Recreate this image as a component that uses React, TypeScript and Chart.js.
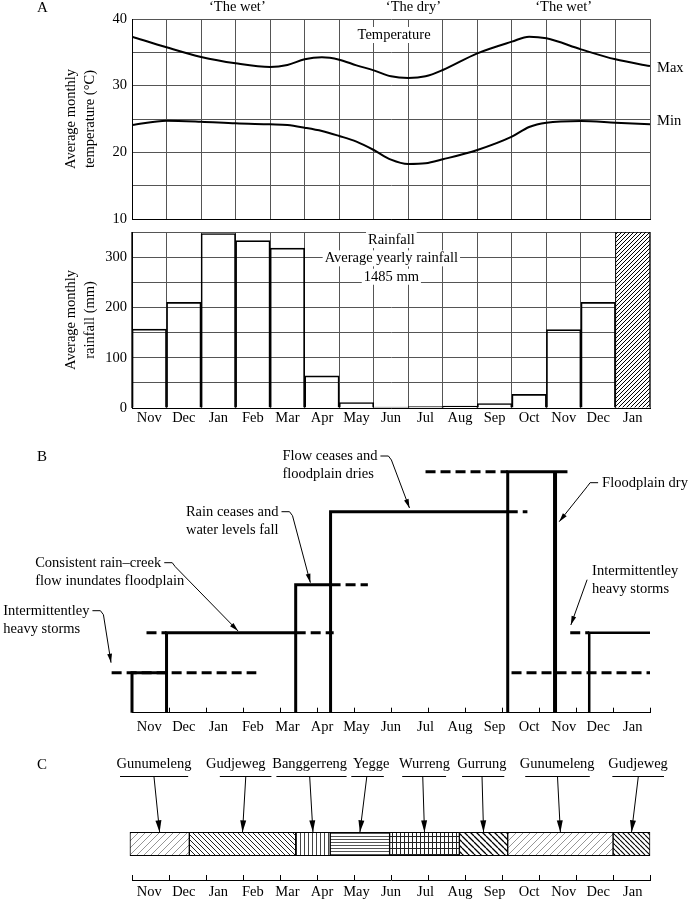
import React, { useEffect, useRef } from 'react';
import { Chart, registerables } from 'chart.js';

Chart.register(...registerables);

const SERIF = '"Liberation Serif", "Times New Roman", Times, serif';
const FS = 14.5;
const GRID = '#555';
Chart.defaults.font.family = SERIF;
Chart.defaults.font.size = FS;
Chart.defaults.color = '#000';

// ---------------- DATA ----------------
const months = ['Nov', 'Dec', 'Jan', 'Feb', 'Mar', 'Apr', 'May', 'Jun', 'Jul', 'Aug', 'Sep', 'Oct', 'Nov', 'Dec', 'Jan'];

// Panel A – temperature (x in months from start of Nov)
const tempMonthPos = [0, 1, 2, 3, 4, 4.5, 5, 5.5, 6, 6.5, 7, 7.5, 8, 8.5, 9, 10, 11, 11.5, 12, 13, 14, 15];
const tempMax = [37.35, 35.75, 34.3, 33.35, 32.8, 33.1, 33.95, 34.25, 33.9, 33.05, 32.3, 31.4, 31.15, 31.4, 32.35, 34.85, 36.6, 37.35, 37.1, 35.45, 33.95, 32.95];
const tempMin = [24.1, 24.75, 24.6, 24.35, 24.2, 24.1, 23.7, 23.2, 22.45, 21.6, 20.35, 18.9, 18.25, 18.35, 18.95, 20.35, 22.35, 23.8, 24.45, 24.7, 24.45, 24.2];
const tempTickLabels = [10, 20, 30, 40];
const periodNames = ['\u2018The wet\u2019', '\u2018The dry\u2019', '\u2018The wet\u2019'];
const periodPos = [3.05, 8.15, 12.5];

// Panel A – rainfall (mm)
const rainfall = [157, 210, 347, 333, 318, 64, 11, 2, 3, 4, 9, 27, 156, 210, 350];
const rainTickLabels = [0, 100, 200, 300];
const rainNotes = ['Rainfall', 'Average yearly rainfall', '1485 mm'];

// Panel B – flow regime steps (x: months, y: relative water level)
const stepSolidX = [[0, 0, 1], [1, 1, 4.74], [4.74, 4.74, 5.75], [5.75, 5.75, 10.88], [10.88, 10.88, 12.61], [12.25, 12.25], [13.24, 13.24, 15]];
const stepSolidY = [[0, 40, 40], [0, 80, 80], [0, 128, 128], [0, 201, 201], [0, 241, 241], [0, 241], [0, 80, 80]];
const stepDashX = [[-0.59, 3.6], [0.42, 1], [4.74, 5.84], [5.75, 6.83], [10.88, 11.45], [8.5, 10.88], [10.99, 15], [12.69, 13.24]];
const stepDashY = [[40, 40], [80, 80], [80, 80], [128, 128], [201, 201], [241, 241], [40, 40], [80, 80]];

// Panel C – seasons
const seasonNames = ['Gunumeleng', 'Gudjeweg', 'Banggerreng', 'Yegge', 'Wurreng', 'Gurrung', 'Gunumeleng', 'Gudjeweg'];
const seasonStart = [-0.06, 1.66, 4.74, 5.74, 7.46, 9.48, 10.88, 13.93];
const seasonEnd = [1.66, 4.74, 5.74, 7.46, 9.48, 10.88, 13.93, 15];

// ---------------- LAYOUT / STYLE ----------------
const AXIS_TICK_INTERVALS = 14;
const solidWidths = [3, 3, 3, 3, 3, 4, 2.5];
const flowNotes = [
  { lines: ['Flow ceases and', 'floodplain dries'], x: 4.355, y: 256.7, tip: [8.035, 204.7], side: 'right' },
  { lines: ['Rain ceases and', 'water levels fall'], x: 1.561, y: 201, tip: [5.165, 130], side: 'right' },
  { lines: ['Consistent rain\u2013creek', 'flow inundates floodplain'], x: -2.803, y: 150, tip: [3.072, 81.7], side: 'right' },
  { lines: ['Intermittentley', 'heavy storms'], x: -3.728, y: 102, tip: [-0.607, 50], side: 'right' },
  { lines: ['Floodplain dry'], x: 13.613, y: 230, tip: [12.37, 191], side: 'left' },
  { lines: ['Intermittentley', 'heavy storms'], x: 13.324, y: 142, tip: [12.708, 87.7], side: 'slant' },
];
const seasonTextPos = [0.636, 3.006, 5.145, 6.928, 8.468, 10.13, 12.312, 14.653];
const seasonLineStart = [-0.347, 2.543, 4.182, 6.35, 7.824, 9.558, 11.387, 13.91];
const seasonLineEnd = [1.627, 4.037, 6.214, 7.292, 9.095, 10.78, 13.257, 15.405];
const seasonArrowTop = [0.636, 3.295, 5.145, 6.8, 8.419, 10.136, 12.321, 14.662];
const seasonPatterns = [
  { kind: 'fwd', w: 7, h: 7, color: '#8a8a8a', lw: 0.9 },
  { kind: 'back', w: 5, h: 5, color: '#222', lw: 1 },
  { kind: 'vert', w: 4, h: 4, color: '#444', lw: 1 },
  { kind: 'horiz', w: 3, h: 3, color: '#555', lw: 1 },
  { kind: 'grid', w: 4, h: 6, color: '#222', lw: 1 },
  { kind: 'back', w: 6, h: 6, color: '#000', lw: 1.3 },
  { kind: 'fwd', w: 7, h: 7, color: '#8a8a8a', lw: 0.9 },
  { kind: 'back', w: 5, h: 5, color: '#000', lw: 1.1 },
];

// ---------------- HELPERS ----------------
function makePattern(ctx: CanvasRenderingContext2D, p: any) {
  const c = document.createElement('canvas');
  c.width = p.w;
  c.height = p.h;
  const g = c.getContext('2d')!;
  g.fillStyle = '#fff';
  g.fillRect(0, 0, p.w, p.h);
  g.strokeStyle = p.color;
  g.lineWidth = p.lw;
  g.beginPath();
  const s = p.w;
  if (p.kind === 'fwd') {
    for (let k = -1; k <= 1; k++) { g.moveTo(k * s, s); g.lineTo(k * s + s, 0); }
  } else if (p.kind === 'back') {
    for (let k = -1; k <= 1; k++) { g.moveTo(k * s, 0); g.lineTo(k * s + s, s); }
  } else if (p.kind === 'vert') {
    g.moveTo(0.5, 0); g.lineTo(0.5, p.h);
  } else if (p.kind === 'horiz') {
    g.moveTo(0, 0.5); g.lineTo(p.w, 0.5);
  } else if (p.kind === 'grid') {
    g.moveTo(0.5, 0); g.lineTo(0.5, p.h);
    g.moveTo(0, 0.5); g.lineTo(p.w, 0.5);
  }
  g.stroke();
  return ctx.createPattern(c, 'repeat');
}

function font(ctx: CanvasRenderingContext2D, size = FS) {
  ctx.font = `${size}px ${SERIF}`;
}

function boxedText(ctx: CanvasRenderingContext2D, text: string, cx: number, cy: number) {
  const w = ctx.measureText(text).width;
  ctx.fillStyle = '#fff';
  ctx.fillRect(cx - w / 2 - 2, cy - 8, w + 4, 16);
  ctx.fillStyle = '#000';
  ctx.fillText(text, cx, cy);
}

function arrowPath(ctx: CanvasRenderingContext2D, pts: number[][], head = 10, half = 2.6) {
  ctx.beginPath();
  ctx.moveTo(pts[0][0], pts[0][1]);
  for (let i = 1; i < pts.length; i++) ctx.lineTo(pts[i][0], pts[i][1]);
  ctx.stroke();
  const [ax, ay] = pts[pts.length - 2];
  const [bx, by] = pts[pts.length - 1];
  const a = Math.atan2(by - ay, bx - ax);
  const c = Math.cos(a), s = Math.sin(a);
  ctx.beginPath();
  ctx.moveTo(bx, by);
  ctx.lineTo(bx - head * c + half * s, by - head * s - half * c);
  ctx.lineTo(bx - head * c - half * s, by - head * s + half * c);
  ctx.closePath();
  ctx.fill();
}

const baseOptions = {
  animation: false,
  responsive: false,
  events: [],
  plugins: { legend: { display: false }, tooltip: { enabled: false } },
};

const fixYAxis = (s: any) => {
  s.width = 132;
  s.paddingTop = 0;
  s.paddingBottom = 0;
};

const tickMarksPlugin = {
  id: 'tickMarks',
  afterDraw(chart: any) {
    const { ctx, chartArea, scales } = chart;
    const x = scales.x;
    ctx.save();
    ctx.strokeStyle = '#000';
    ctx.lineWidth = 1;
    for (let k = 0; k <= AXIS_TICK_INTERVALS; k++) {
      const px = Math.round(x.getPixelForValue((k * (x.max - x.min)) / AXIS_TICK_INTERVALS + x.min)) + 0.5;
      ctx.beginPath();
      ctx.moveTo(px, chartArea.bottom);
      ctx.lineTo(px, chartArea.bottom - 5);
      ctx.stroke();
    }
    ctx.restore();
  },
};

function monthAxis(height: number, padding: number) {
  return {
    type: 'linear',
    min: 0,
    max: 15,
    grid: { display: false, drawTicks: false },
    border: { display: true, color: '#000', width: 1 },
    ticks: { padding, autoSkip: false, maxRotation: 0, callback: (_v: any, i: number) => months[i] },
    afterBuildTicks: (s: any) => { s.ticks = months.map((_m, i) => ({ value: i + 0.5 })); },
    afterFit: (s: any) => { s.height = height; s.paddingLeft = 0; s.paddingRight = 0; },
  };
}

// ---------------- CONFIGS ----------------
function tempConfig(): any {
  const annot = {
    id: 'tempNotes',
    afterDatasetsDraw(chart: any) {
      const { ctx, chartArea, scales: { x, y } } = chart;
      ctx.save();
      font(ctx);
      ctx.textBaseline = 'middle';
      ctx.textAlign = 'center';
      ctx.fillStyle = '#000';
      periodNames.forEach((t, i) => ctx.fillText(t, x.getPixelForValue(periodPos[i]), chartArea.top - 12));
      boxedText(ctx, 'Temperature', x.getPixelForValue(7.59), y.getPixelForValue(37.6));
      ctx.textAlign = 'left';
      ctx.fillText('Max', chartArea.right + 7, y.getPixelForValue(tempMax[tempMax.length - 1]) + 2);
      ctx.fillText('Min', chartArea.right + 7, y.getPixelForValue(tempMin[tempMin.length - 1]) - 3);
      font(ctx, 15);
      ctx.fillText('A', 37, 8);
      ctx.restore();
    },
  };
  const line = (vals: number[]) => ({
    data: tempMonthPos.map((xv, i) => ({ x: xv, y: vals[i] })),
    borderColor: '#000',
    borderWidth: 2,
    pointRadius: 0,
    fill: false,
    cubicInterpolationMode: 'monotone',
  });
  return {
    type: 'line',
    data: { datasets: [line(tempMax), line(tempMin)] },
    options: {
      ...baseOptions,
      layout: { padding: { left: 0, right: 43, top: 19, bottom: 7 } },
      scales: {
        x: {
          type: 'linear', min: 0, max: 15,
          ticks: { stepSize: 1, display: false },
          grid: { color: GRID, drawTicks: false },
          border: { color: '#000' },
          afterFit: (s: any) => { s.height = 0; s.paddingLeft = 0; s.paddingRight = 0; },
        },
        y: {
          min: 10, max: 40,
          ticks: { stepSize: 5, padding: 5, callback: (v: number) => (tempTickLabels.includes(v) ? String(v) : '') },
          grid: { color: GRID, drawTicks: false },
          border: { color: '#000' },
          title: { display: true, text: ['Average monthly', 'temperature (\u00B0C)'], font: { size: FS, lineHeight: 1.3 }, padding: { top: 61.6, bottom: 0 } },
          afterFit: fixYAxis,
        },
      },
    },
    plugins: [annot],
  };
}

function rainConfig(canvas: HTMLCanvasElement): any {
  const ctx0 = canvas.getContext('2d')!;
  const hatch = makePattern(ctx0, { kind: 'fwd', w: 4, h: 4, color: '#000', lw: 1 });
  const last = rainfall.length - 1;
  const annot = {
    id: 'rainNotes',
    afterDatasetsDraw(chart: any) {
      const { ctx, scales: { x, y } } = chart;
      const cx = x.left + (x.width * 7.51) / 15;
      const levels = [334, 297.6, 261];
      ctx.save();
      font(ctx);
      ctx.textBaseline = 'middle';
      ctx.textAlign = 'center';
      rainNotes.forEach((t, i) => boxedText(ctx, t, cx, y.getPixelForValue(levels[i])));
      ctx.restore();
    },
  };
  return {
    type: 'bar',
    data: {
      labels: months,
      datasets: [{
        data: rainfall,
        backgroundColor: rainfall.map((_v, i) => (i === last ? hatch : 'rgba(0,0,0,0)')),
        borderColor: '#000',
        borderWidth: 1,
        barPercentage: 1,
        categoryPercentage: 1,
      }],
    },
    options: {
      ...baseOptions,
      layout: { padding: { left: 0, right: 43, top: 6, bottom: 0 } },
      scales: {
        x: {
          grid: { color: GRID, drawTicks: false },
          border: { color: '#000' },
          ticks: { padding: 1.3, autoSkip: false, maxRotation: 0 },
          afterFit: (s: any) => { s.height = 18; s.paddingLeft = 0; s.paddingRight = 0; },
        },
        y: {
          min: 0, max: 350,
          ticks: { stepSize: 50, padding: 5, callback: (v: number) => (rainTickLabels.includes(v) ? String(v) : '') },
          grid: { color: GRID, drawTicks: false },
          border: { color: '#000' },
          title: { display: true, text: ['Average monthly', 'rainfall (mm)'], font: { size: FS, lineHeight: 1.3 }, padding: { top: 61.6, bottom: 0 } },
          afterFit: fixYAxis,
        },
      },
    },
    plugins: [annot],
  };
}

function flowConfig(): any {
  const solid = stepSolidX.map((xs, i) => ({
    data: xs.map((xv, j) => ({ x: xv, y: stepSolidY[i][j] })),
    borderColor: '#000',
    borderWidth: solidWidths[i],
    pointRadius: 0,
    fill: false,
    clip: false,
    borderJoinStyle: 'miter',
  }));
  const dashed = stepDashX.map((xs, i) => ({
    data: xs.map((xv, j) => ({ x: xv, y: stepDashY[i][j] })),
    borderColor: '#000',
    borderWidth: 3,
    borderDash: [10, 5],
    pointRadius: 0,
    fill: false,
    clip: false,
  }));
  const annot = {
    id: 'flowNotes',
    afterDraw(chart: any) {
      const { ctx, scales: { x, y } } = chart;
      ctx.save();
      font(ctx);
      ctx.textBaseline = 'middle';
      ctx.textAlign = 'left';
      ctx.fillStyle = '#000';
      ctx.strokeStyle = '#000';
      ctx.lineWidth = 1;
      ctx.lineJoin = 'round';
      flowNotes.forEach((n) => {
        const lx = x.getPixelForValue(n.x);
        const ly = y.getPixelForValue(n.y);
        n.lines.forEach((t, i) => ctx.fillText(t, lx, ly + i * 18));
        const tip = [x.getPixelForValue(n.tip[0]), y.getPixelForValue(n.tip[1])];
        if (n.side === 'right') {
          const sx = lx + ctx.measureText(n.lines[0]).width + 3;
          arrowPath(ctx, [[sx, ly], [sx + 8, ly], [sx + 11, ly + 4], tip], 9, 2.4);
        } else if (n.side === 'left') {
          const sx = lx - 4;
          arrowPath(ctx, [[sx, ly], [sx - 8, ly], [sx - 11, ly + 4], tip], 9, 2.4);
        } else {
          arrowPath(ctx, [[lx - 5, ly + 9], tip], 9, 2.4);
        }
      });
      font(ctx, 15);
      ctx.fillText('B', 37, 27);
      ctx.restore();
    },
  };
  return {
    type: 'line',
    data: { datasets: [...dashed, ...solid] },
    options: {
      ...baseOptions,
      layout: { padding: { left: 132, right: 43, top: 22.7, bottom: 0 } },
      scales: {
        x: monthAxis(27.3, 5.3),
        y: { display: false, min: 0, max: 260 },
      },
    },
    plugins: [tickMarksPlugin, annot],
  };
}

function seasonConfig(canvas: HTMLCanvasElement): any {
  const ctx0 = canvas.getContext('2d')!;
  const pats = seasonPatterns.map((p) => makePattern(ctx0, p));
  const annot = {
    id: 'seasonNotes',
    afterDraw(chart: any) {
      const { ctx, chartArea, scales: { x } } = chart;
      ctx.save();
      font(ctx);
      ctx.textBaseline = 'middle';
      ctx.textAlign = 'center';
      ctx.fillStyle = '#000';
      ctx.strokeStyle = '#000';
      ctx.lineWidth = 1;
      const ty = chartArea.top - 44;
      const uy = chartArea.top - 32 + 0.5;
      seasonNames.forEach((name, i) => {
        ctx.fillText(name, x.getPixelForValue(seasonTextPos[i]), ty);
        ctx.beginPath();
        ctx.moveTo(x.getPixelForValue(seasonLineStart[i]), uy);
        ctx.lineTo(x.getPixelForValue(seasonLineEnd[i]), uy);
        ctx.stroke();
        const el = chart.getDatasetMeta(i).data[0];
        const barTop = el.y - el.height / 2;
        const mid = x.getPixelForValue((seasonStart[i] + seasonEnd[i]) / 2);
        arrowPath(ctx, [[x.getPixelForValue(seasonArrowTop[i]), uy], [mid, barTop]], 12, 3);
      });
      ctx.textAlign = 'left';
      font(ctx, 15);
      ctx.fillText('C', 37, 25);
      ctx.restore();
    },
  };
  return {
    type: 'bar',
    data: {
      labels: [''],
      datasets: seasonNames.map((n, i) => ({
        label: n,
        data: [[seasonStart[i], seasonEnd[i]]],
        backgroundColor: pats[i],
        borderColor: '#000',
        borderWidth: 1,
        borderSkipped: false,
        grouped: false,
        barThickness: 23.4,
        clip: false,
      })),
    },
    options: {
      ...baseOptions,
      indexAxis: 'y',
      layout: { padding: { left: 132, right: 43, top: 68, bottom: 0 } },
      scales: {
        x: monthAxis(20, 3),
        y: { display: false },
      },
    },
    plugins: [tickMarksPlugin, annot],
  };
}

export default function App() {
  const r1 = useRef<HTMLCanvasElement>(null);
  const r2 = useRef<HTMLCanvasElement>(null);
  const r3 = useRef<HTMLCanvasElement>(null);
  const r4 = useRef<HTMLCanvasElement>(null);

  useEffect(() => {
    const charts = [
      new Chart(r1.current!, tempConfig()),
      new Chart(r2.current!, rainConfig(r2.current!)),
      new Chart(r3.current!, flowConfig()),
      new Chart(r4.current!, seasonConfig(r4.current!)),
    ];
    return () => charts.forEach((c) => c.destroy());
  }, []);

  const pos = (top: number): React.CSSProperties => ({ position: 'absolute', left: 0, top, display: 'block' });
  return (
    <div style={{ position: 'absolute', left: 0, top: 0, width: 693, height: 900, background: '#fff', overflow: 'hidden' }}>
      <canvas ref={r1} width={693} height={226} style={pos(0)} />
      <canvas ref={r2} width={693} height={200} style={pos(226)} />
      <canvas ref={r3} width={693} height={310} style={pos(430)} />
      <canvas ref={r4} width={693} height={160} style={pos(740)} />
    </div>
  );
}
